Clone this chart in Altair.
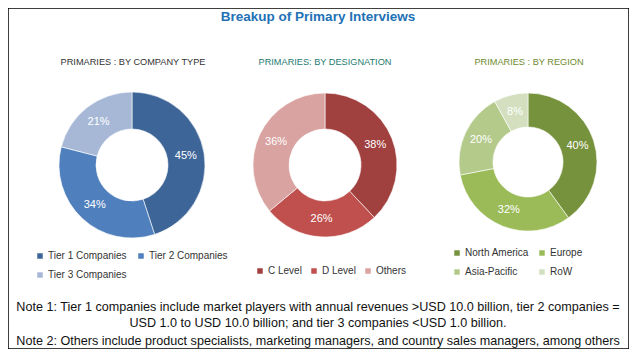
import altair as alt
import pandas as pd

title_text = "Breakup of Primary Interviews"

company_title = "PRIMARIES : BY COMPANY TYPE"
company_labels = ["Tier 1 Companies", "Tier 2 Companies", "Tier 3 Companies"]
company_values = [45, 34, 21]
company_colors = ["#3E6597", "#4F80BD", "#A7B8D7"]

designation_title = "PRIMARIES: BY DESIGNATION"
designation_labels = ["C Level", "D Level", "Others"]
designation_values = [38, 26, 36]
designation_colors = ["#A0403F", "#C0504D", "#D9A3A2"]

region_title = "PRIMARIES : BY REGION"
region_labels = ["North America", "Europe", "Asia-Pacific", "RoW"]
region_values = [40, 32, 20, 8]
region_colors = ["#76923C", "#9BBB59", "#B4CA8B", "#D3DFBE"]

notes = [
    "Note 1: Tier 1 companies include market players with annual revenues >USD 10.0 billion, tier 2 companies =",
    "USD 1.0 to USD 10.0 billion; and tier 3 companies <USD 1.0 billion.",
    "Note 2: Others include product specialists, marketing managers, and country sales managers, among others",
]

W, H = 621, 341
FONT = "Liberation Sans"


def donut(labels, values, colors, cx, cy, r_out, r_in, legend):
    df = pd.DataFrame({"label": labels, "value": values, "idx": list(range(len(labels)))})
    df["pct"] = df["value"].astype(str) + "%"
    base = alt.Chart(df).encode(
        theta=alt.Theta("value:Q", stack=True),
        order=alt.Order("idx:Q"),
    )
    arc = base.mark_arc(outerRadius=r_out, innerRadius=r_in, stroke="white", strokeWidth=0.6).encode(
        x=alt.value(cx),
        y=alt.value(cy),
        color=alt.Color("label:N", scale=alt.Scale(domain=labels, range=colors), legend=legend),
    )
    txt = base.mark_text(radius=(r_out + r_in) / 2, color="white", fontSize=11, font=FONT).encode(
        x=alt.value(cx),
        y=alt.value(cy),
        text="pct:N",
    )
    return [arc, txt]


def make_legend(lx, ly, cols, colpad):
    return alt.Legend(
        orient="none", legendX=lx, legendY=ly, columns=cols, direction="horizontal", title=None,
        symbolType="square", symbolSize=30, symbolStrokeWidth=0,
        labelFontSize=10, labelFont=FONT, labelColor="#333333",
        columnPadding=colpad, rowPadding=9, padding=0, labelOffset=3,
    )


def label(text, x, y, size, color, weight="normal"):
    return alt.Chart(pd.DataFrame({"t": [text]})).mark_text(
        fontSize=size, font=FONT, color=color, fontWeight=weight, align="center", baseline="middle"
    ).encode(x=alt.value(x), y=alt.value(y), text="t:N")


layers = []
layers.append(label(title_text, 310, 9, 13.5, "#2271B6", "bold"))
layers.append(label(company_title, 125, 54, 9.2, "#333333"))
layers.append(label(designation_title, 317, 54, 9.2, "#1E7B72"))
layers.append(label(region_title, 521, 54, 9.2, "#6E8A2E"))

layers += donut(company_labels, company_values, company_colors, 124, 157, 73, 36, make_legend(27, 243, 2, 9))
layers += donut(designation_labels, designation_values, designation_colors, 317, 157, 72, 36, make_legend(247, 258, 3, 7))
layers += donut(region_labels, region_values, region_colors, 520, 154, 69, 35, make_legend(444, 240, 2, 8))

for line, yy in zip(notes, [299, 315, 333]):
    layers.append(label(line, 310, yy, 12.6, "#111111"))

chart = alt.layer(*layers).resolve_scale(color="independent").properties(
    width=W, height=H,
    autosize=alt.AutoSizeParams(type="fit", contains="padding"),
    padding=0,
).configure_view(stroke="black", strokeWidth=1.5)

chart.save("out.html", embed_options={"renderer": "svg", "actions": False})
